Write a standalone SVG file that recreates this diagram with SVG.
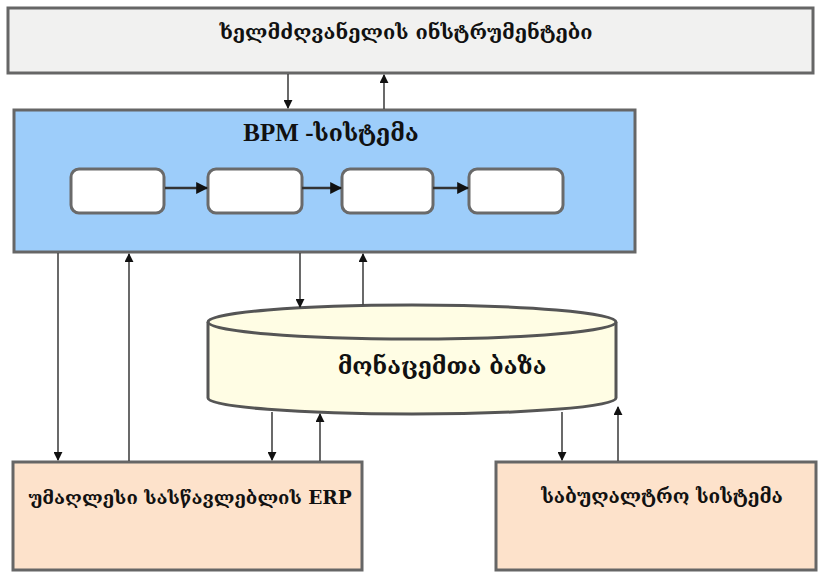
<svg xmlns="http://www.w3.org/2000/svg" width="829" height="573" viewBox="0 0 829 573">
  <style>
    .box { stroke: #666; stroke-width: 3; }
    .step { fill: #fff; stroke: #6a6a6a; stroke-width: 3; }
    .lbl { font-family: "DejaVu Serif", "Liberation Serif", serif; font-weight: bold; fill: #111; text-anchor: middle; }
    .link { stroke: #444; stroke-width: 1.6; fill: none; }
    .flow { stroke: #333; stroke-width: 2.5; fill: none; }
  </style>
  <defs>
    <marker id="arrow" viewBox="0 0 10 10" refX="9" refY="5" markerWidth="9" markerHeight="9" markerUnits="userSpaceOnUse" orient="auto">
      <path d="M0,0 L10,5 L0,10 z" fill="#111"/>
    </marker>
    <marker id="arrowSm" viewBox="0 0 10 10" refX="9" refY="5" markerWidth="12" markerHeight="12" markerUnits="userSpaceOnUse" orient="auto">
      <path d="M0,0 L10,5 L0,10 z" fill="#111"/>
    </marker>
  </defs>
  <rect width="829" height="573" fill="#fff"/>

  <!-- manager tools -->
  <g id="manager-tools">
    <rect class="box" x="8" y="8" width="805" height="65" fill="#f1f1f0"/>
    <text class="lbl" x="406" y="39" font-size="20">ხელმძღვანელის ინსტრუმენტები</text>
  </g>

  <!-- BPM system with its process steps -->
  <g id="bpm-system">
    <rect class="box" x="14" y="110" width="621" height="142" fill="#9dcdfa"/>
    <text x="331" y="141" font-size="25" font-family="Liberation Serif, DejaVu Serif, serif" font-weight="bold" fill="#111" text-anchor="middle">BPM -<tspan font-family="DejaVu Serif, serif" font-size="23">სისტემა</tspan></text>
  </g>
  <g id="step-1"><rect class="step" x="71" y="169" width="93" height="44" rx="8"/></g>
  <g id="step-2"><rect class="step" x="208" y="169" width="94" height="44" rx="8"/></g>
  <g id="step-3"><rect class="step" x="342" y="169" width="91" height="44" rx="8"/></g>
  <g id="step-4"><rect class="step" x="469" y="169" width="94" height="44" rx="8"/></g>

  <!-- database cylinder -->
  <g id="database">
    <path d="M208,322 L208,398 A204,16 0 0 0 616,398 L616,322" fill="#fffde4" stroke="#555" stroke-width="3"/>
    <ellipse cx="412" cy="322" rx="204" ry="17" fill="#fffde4" stroke="#555" stroke-width="3"/>
    <text class="lbl" x="442" y="374" font-size="23">მონაცემთა ბაზა</text>
  </g>

  <!-- university ERP -->
  <g id="erp">
    <rect class="box" x="13" y="462" width="349" height="108" fill="#fde2cb"/>
    <text class="lbl" x="190" y="504" font-size="18.5">უმაღლესი სასწავლებლის ERP</text>
  </g>

  <!-- accounting system -->
  <g id="accounting">
    <rect class="box" x="496" y="462" width="320" height="108" fill="#fde2cb"/>
    <text class="lbl" x="662" y="503" font-size="19">საბუღალტრო სისტემა</text>
  </g>

  <!-- connectors -->
  <g id="connectors">
    <line class="flow" x1="165" y1="188" x2="207" y2="188" marker-end="url(#arrowSm)"/>
    <line class="flow" x1="302" y1="188" x2="341" y2="188" marker-end="url(#arrowSm)"/>
    <line class="flow" x1="433" y1="188" x2="468" y2="188" marker-end="url(#arrowSm)"/>

    <line class="link" x1="288" y1="74" x2="288" y2="108" marker-end="url(#arrow)"/>
    <line class="link" x1="384" y1="109" x2="384" y2="75" marker-end="url(#arrow)"/>

    <line class="link" x1="58" y1="253" x2="58" y2="460" marker-end="url(#arrow)"/>
    <line class="link" x1="129" y1="461" x2="129" y2="254" marker-end="url(#arrow)"/>

    <line class="link" x1="300" y1="253" x2="300" y2="307" marker-end="url(#arrow)"/>
    <line class="link" x1="363" y1="305" x2="363" y2="254" marker-end="url(#arrow)"/>

    <line class="link" x1="272" y1="412" x2="272" y2="460" marker-end="url(#arrow)"/>
    <line class="link" x1="320" y1="461" x2="320" y2="414" marker-end="url(#arrow)"/>

    <line class="link" x1="562" y1="412" x2="562" y2="460" marker-end="url(#arrow)"/>
    <line class="link" x1="618" y1="461" x2="618" y2="407" marker-end="url(#arrow)"/>
  </g>
</svg>
